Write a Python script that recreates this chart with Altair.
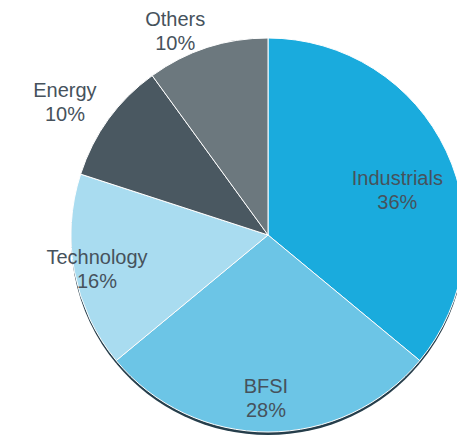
import altair as alt
import pandas as pd

categories = ["Industrials", "BFSI", "Technology", "Energy", "Others"]
shares = [36, 28, 16, 10, 10]
colors = ["#1aabdd", "#6cc5e6", "#a9dcf0", "#4a5861", "#6c787e"]

df = pd.DataFrame({"category": categories, "share": shares, "order": list(range(len(categories)))})
df["label"] = df["category"] + "\n" + df["share"].astype(str) + "%"

# label layout (angle shift in share units, distance from centre in px)
label_shift = {"Industrials": 2.0, "BFSI": 0.2, "Technology": -0.4, "Energy": -0.95, "Others": -1.9}
label_radius = {"Industrials": 136, "BFSI": 166, "Technology": 175, "Energy": 241, "Others": 221}

def expr_map(d):
    s = "0"
    for k, v in d.items():
        s = f"datum.category === '{k}' ? {v} : ({s})"
    return s

CX, CY, R = 268, 235, 197

base = alt.Chart(df)
theta = alt.Theta("share:Q", stack=True)
order = alt.Order("order:Q")

shadow = base.mark_arc(outerRadius=R, color="#263e4b").encode(
    theta=theta, order=order, x=alt.value(CX), y=alt.value(CY + 3)
)

pie = base.mark_arc(outerRadius=R, stroke="white", strokeWidth=1).encode(
    theta=theta,
    order=order,
    color=alt.Color("category:N", scale=alt.Scale(domain=categories, range=colors), legend=None),
    x=alt.value(CX),
    y=alt.value(CY),
)

labels = base.transform_window(
    cum="sum(share)", sort=[alt.SortField("order")]
).transform_calculate(
    la=f"datum.cum - datum.share / 2 + ({expr_map(label_shift)})",
    lr=expr_map(label_radius),
).mark_text(
    font="Liberation Sans", fontSize=20, lineHeight=24, lineBreak="\n",
    color="#46525c", align="center", baseline="middle", dy=-14
).encode(
    theta=alt.Theta("la:Q"),
    radius=alt.Radius("lr:Q", scale=None),
    text="label:N",
    x=alt.value(CX),
    y=alt.value(CY),
)

chart = alt.layer(shadow, pie, labels).properties(
    width=457, height=438, padding=0, autosize="none"
).configure_view(stroke=None)

chart.save("out.html", embed_options={"renderer": "svg", "actions": False})
